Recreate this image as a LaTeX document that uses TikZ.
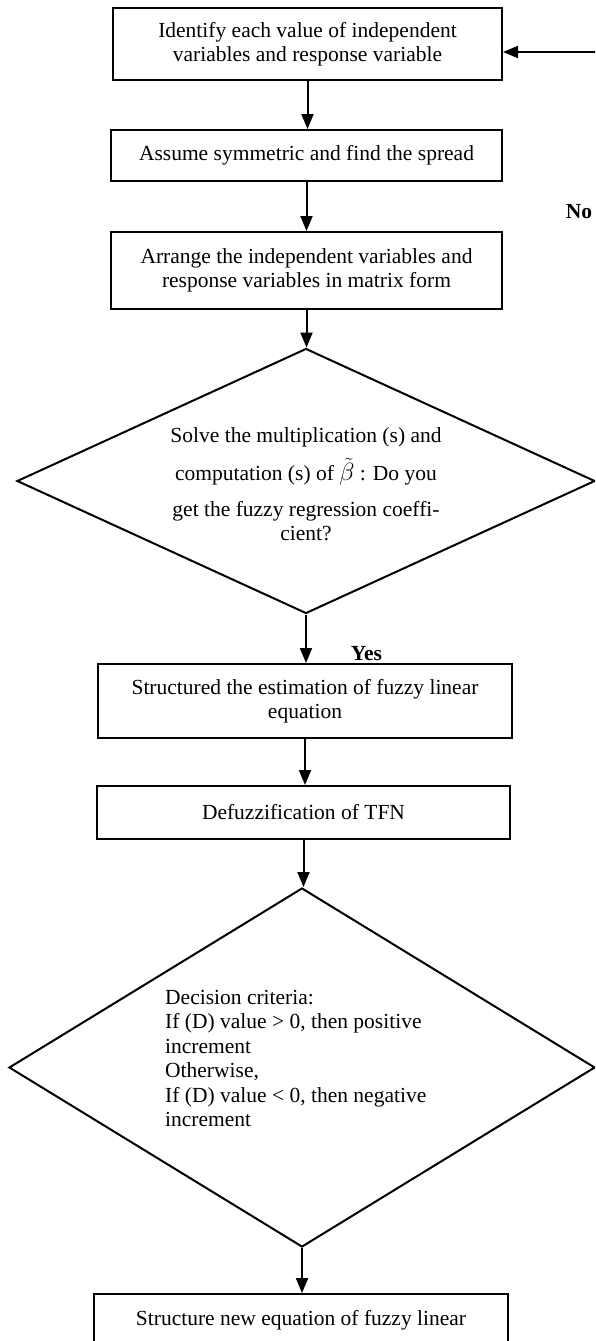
\documentclass[tikz,border=0pt]{standalone}
\usepackage{fontspec}
\setmainfont{Liberation Serif}
\usetikzlibrary{arrows.meta,shapes.geometric}
\begin{document}
\begin{tikzpicture}[x=1pt,y=-1pt,
  every node/.style={font=\fontsize{21.5}{24.5}\selectfont},
  procbox/.style={draw,line width=2pt,rectangle,align=center,inner sep=0pt},
  decbox/.style={draw,line width=2pt,diamond,inner sep=0pt},
  dectext/.style={inner sep=0pt},
  arr/.style={line width=2pt,-{Triangle[length=15pt,width=12pt]}},
  lbl/.style={font=\fontsize{21.5}{24.5}\selectfont\bfseries,inner sep=0pt}]
\useasboundingbox (0,0) rectangle (595,1341);
\clip (0,0) rectangle (595,1341);

\node[procbox, minimum width=389pt, minimum height=72pt] (b1) at (307.5,44)
  {Identify each value of independent\\variables and response variable};
\node[procbox, minimum width=391pt, minimum height=51pt] (b2) at (306.5,155.5)
  {Assume symmetric and find the spread};
\node[procbox, minimum width=391pt, minimum height=77pt] (b3) at (306.5,270.5)
  {Arrange the independent variables and\\response variables in matrix form};
\node[decbox, minimum width=578pt, minimum height=265pt] (d1) at (306,481) {};
\node[dectext, align=center, anchor=north] (d1t) at (306,427)
  {Solve the multiplication (s) and\\[10pt]
   computation (s) of {\fontsize{32}{32}\selectfont$\tilde{\beta}$} : Do you\\[11pt]
   get the fuzzy regression coeffi-\\
   cient?};
\node[procbox, minimum width=414pt, minimum height=74pt] (b4) at (305,701)
  {Structured the estimation of fuzzy linear\\equation};
\node[procbox, minimum width=413pt, minimum height=53pt] (b5) at (303.5,812.5)
  {Defuzzification of TFN};
\node[decbox, minimum width=586pt, minimum height=359pt] (d2) at (302,1067.5) {};
\node[dectext, align=left, anchor=north west] (d2t) at (165,990)
  {Decision criteria:\\
   If (D) value > 0, then positive\\
   increment\\
   Otherwise,\\
   If (D) value < 0, then negative\\
   increment};
\node[procbox, minimum width=414pt, minimum height=52pt] (b6) at (301,1320)
  {Structure new equation of fuzzy linear};

\node[lbl] (yes) at (366.5,654) {Yes};
\node[lbl] (no) at (579,212) {No};
\coordinate (fb) at (600,52);

\draw[arr] (b1.south) -- (b1.south |- b2.north);
\draw[arr] (b2.south) -- (b2.south |- b3.north);
\draw[arr] (b3.south) -- (b3.south |- d1.north);
\draw[arr] (d1.south) -- (d1.south |- b4.north);
\draw[arr] (b4.south) -- (b4.south |- b5.north);
\draw[arr] (b5.south) -- (b5.south |- d2.north);
\draw[arr] (d2.south) -- (d2.south |- b6.north);
\draw[arr] (fb) -- (fb -| b1.east);
\end{tikzpicture}
\end{document}
